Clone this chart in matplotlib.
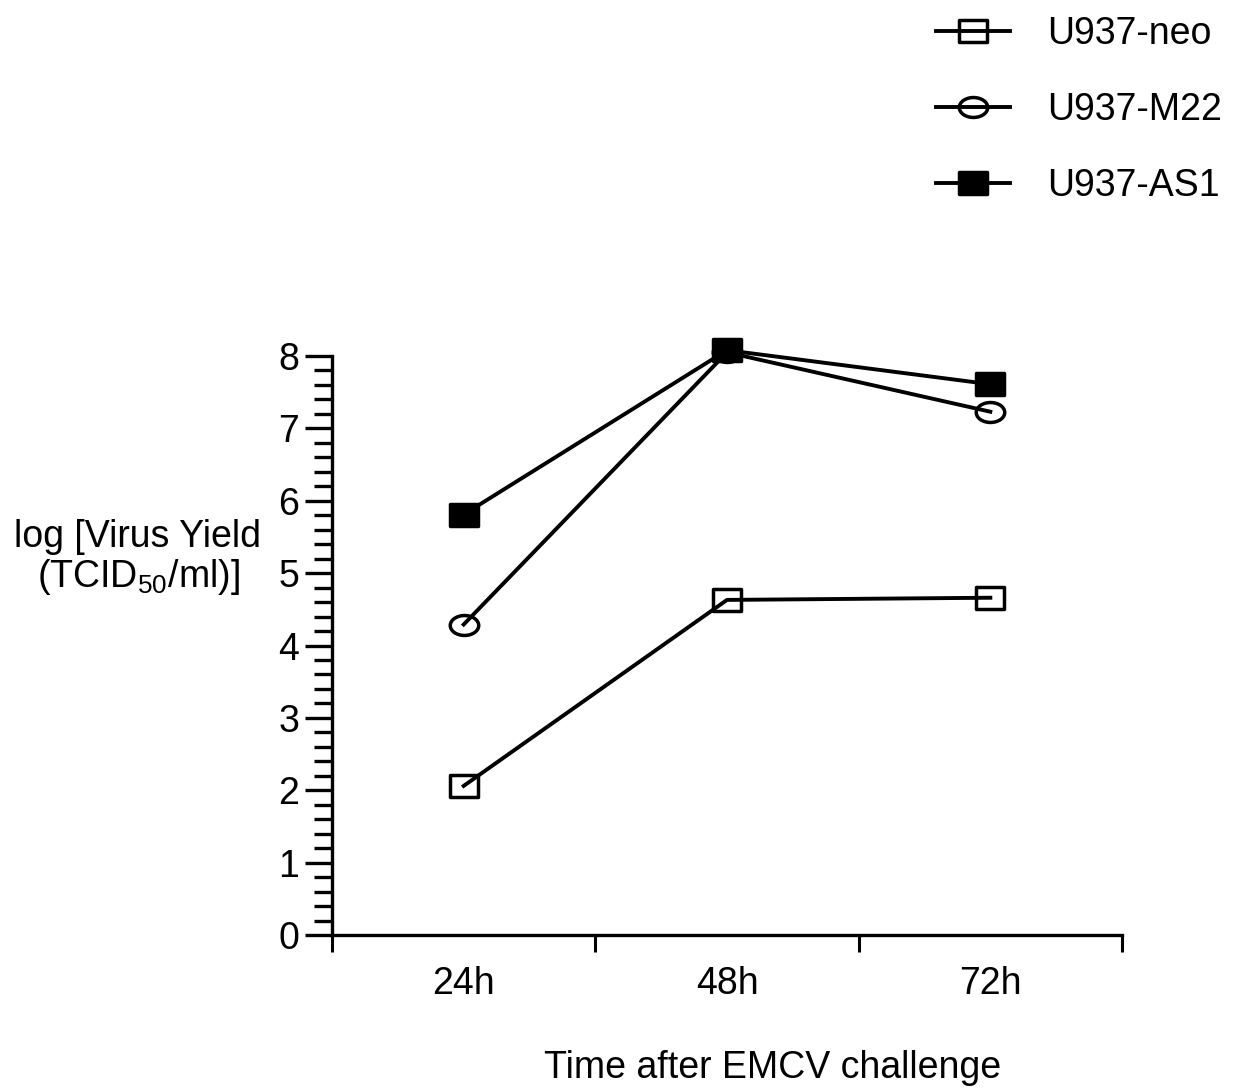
import numpy as np
import matplotlib
matplotlib.use("Agg")
import matplotlib.pyplot as plt
from matplotlib.path import Path
from matplotlib.lines import Line2D
from matplotlib.ticker import MultipleLocator, FixedLocator, NullFormatter

plt.rcParams['font.family'] = ['Liberation Sans', 'DejaVu Sans']
plt.rcParams['mathtext.fontset'] = 'custom'
plt.rcParams['mathtext.rm'] = 'Liberation Sans'
plt.rcParams['mathtext.default'] = 'regular'

# data
times = ["24h", "48h", "72h"]
neo = [2.06, 4.63, 4.66]
m22 = [4.29, 8.05, 7.23]
as1 = [5.81, 8.08, 7.61]
labels = ["U937-neo", "U937-M22", "U937-AS1"]

FS = 27
LW = 2.8

# slightly wide markers like the scan
rect = Path([(-1, -0.78), (1, -0.78), (1, 0.78), (-1, 0.78), (-1, -0.78)],
            [Path.MOVETO, Path.LINETO, Path.LINETO, Path.LINETO, Path.CLOSEPOLY])
circ = Path.unit_circle()
ell = Path(circ.vertices * np.array([1.0, 0.7]), circ.codes)

styles = [
    dict(marker=rect, markersize=20, markerfacecolor='none'),
    dict(marker=ell, markersize=20.5, markerfacecolor='none'),
    dict(marker=rect, markersize=20, markerfacecolor='black'),
]

fig = plt.figure(figsize=(12.36, 10.91), dpi=100)
ax = fig.add_axes([332 / 1236, 1 - 935 / 1091, 790 / 1236, (935 - 356) / 1091])

x = np.arange(len(times)) + 0.5
handles = []
for ys, st, lab in zip([neo, m22, as1], styles, labels):
    ax.plot(x, ys, color='black', lw=LW, markeredgewidth=2.5,
            markeredgecolor='black', clip_on=False, **st)
    handles.append(Line2D([], [], color='black', lw=LW, markeredgewidth=2.5,
                          markeredgecolor='black', label=lab, **st))

ax.set_xlim(0, 3)
ax.set_ylim(0, 8)
ax.spines['top'].set_visible(False)
ax.spines['right'].set_visible(False)
for s in ['left', 'bottom']:
    ax.spines[s].set_linewidth(2.4)

# x: plain ticks at the boundaries, labels at category centres
ax.xaxis.set_major_locator(FixedLocator([0, 1, 2, 3]))
ax.xaxis.set_major_formatter(NullFormatter())
ax.xaxis.set_minor_locator(FixedLocator(x))
ax.set_xticklabels(times, minor=True)
ax.tick_params(axis='x', which='major', direction='out', length=12, width=2.2)
ax.tick_params(axis='x', which='minor', length=0, pad=22, labelsize=FS)

ax.yaxis.set_major_locator(MultipleLocator(1))
ax.yaxis.set_minor_locator(MultipleLocator(0.2))
ax.tick_params(axis='y', which='major', direction='out', length=19.5, width=2.4,
               pad=4, labelsize=FS)
ax.tick_params(axis='y', which='minor', direction='out', length=13, width=2.4)

fig.text(138 / 1236, 1 - 558 / 1091, "log [Virus Yield\n(TCID$_{50}$/ml)]",
         ha='center', va='center', fontsize=FS, multialignment='center',
         linespacing=1.05)
fig.text(773 / 1236, 1 - 1068 / 1091, "Time after EMCV challenge",
         ha='center', va='center', fontsize=FS)

ax.legend(handles=handles, loc='upper left', bbox_to_anchor=(936 / 1236, 1 - 16 / 1091),
          bbox_transform=fig.transFigure, frameon=False, fontsize=FS,
          handlelength=1.97, handletextpad=1.0, labelspacing=1.07,
          borderpad=0, borderaxespad=0)

fig.savefig("out.png", dpi=100)
